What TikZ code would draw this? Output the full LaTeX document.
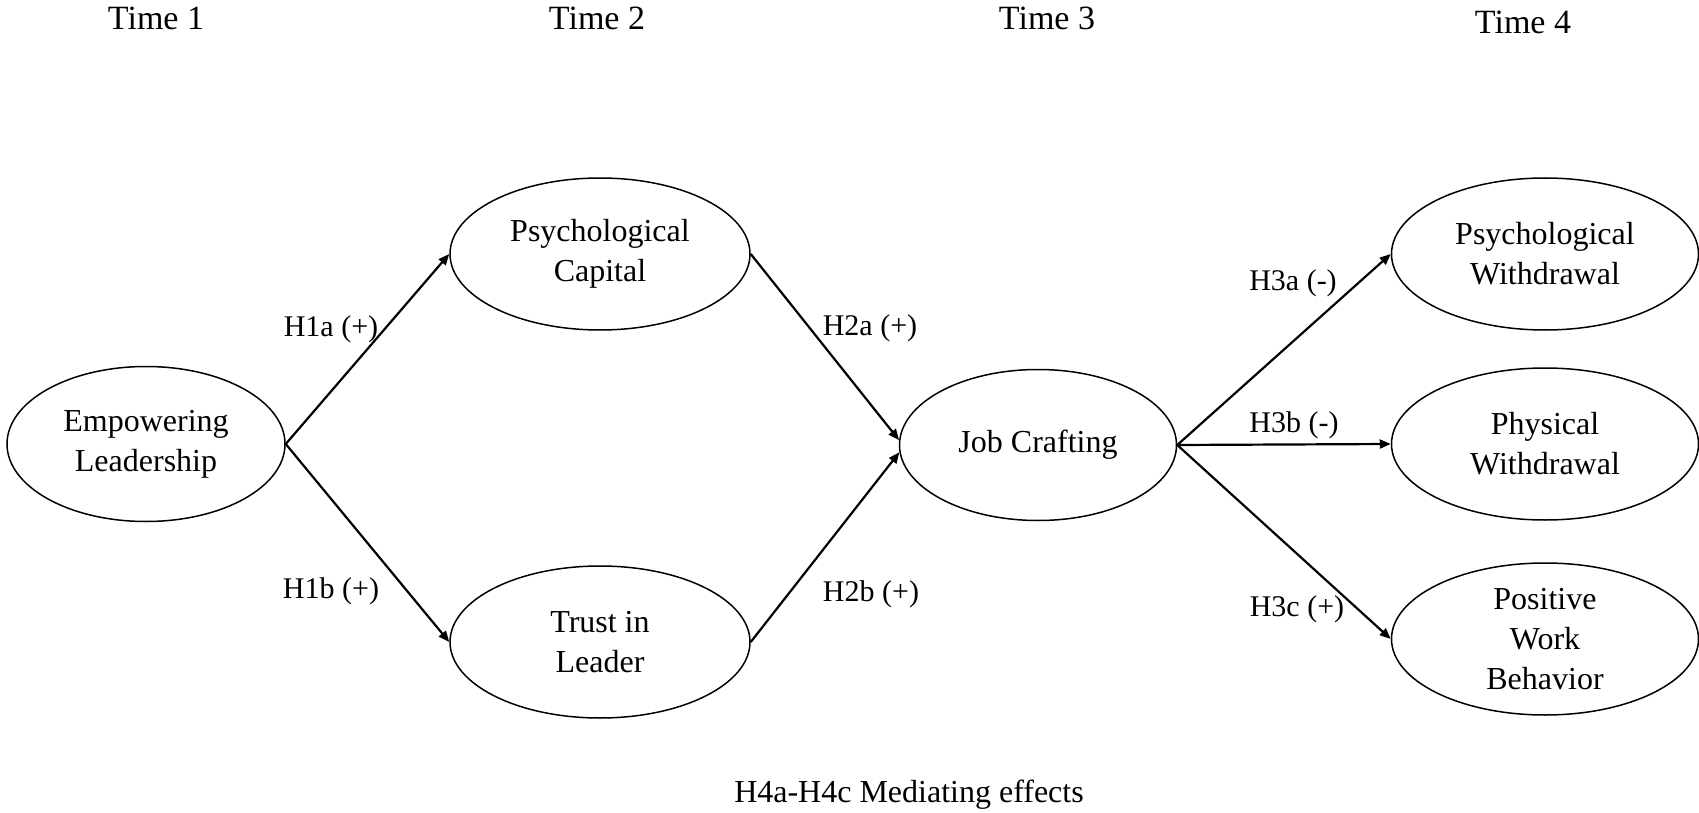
\documentclass[tikz,border=0pt]{standalone}
\usepackage{fontspec}
\setmainfont{Liberation Serif}
\newfontfamily\tnrfont{Liberation Serif}
\usetikzlibrary{arrows.meta,shapes.geometric}
\begin{document}
\begin{tikzpicture}[x=0.5pt,y=-0.5pt,
  var/.style={ellipse,draw,line width=0.75pt,inner sep=0pt,align=center,
    font=\tnrfont\fontsize{16pt}{20pt}\selectfont},
  elbox/.style={var,minimum width=139pt,minimum height=77.5pt},
  midbox/.style={var,minimum width=150pt,minimum height=76pt},
  jcbox/.style={var,minimum width=138.5pt,minimum height=75.5pt},
  outbox/.style={var,minimum width=153.5pt,minimum height=76pt},
  arr/.style={line width=1.1pt,-{Triangle[length=5.5pt,width=4.5pt]}},
  timelbl/.style={anchor=base,inner sep=0pt,font=\tnrfont\fontsize{17pt}{20pt}\selectfont},
  hyplbl/.style={anchor=base,inner sep=0pt,font=\tnrfont\fontsize{15pt}{18pt}\selectfont},
  notelbl/.style={anchor=base,inner sep=0pt,font=\tnrfont\fontsize{16pt}{20pt}\selectfont}
]
\useasboundingbox (0,0) rectangle (1699,813);

% time labels
\node[timelbl] (t1) at (156,30) {Time 1};
\node[timelbl] (t2) at (597,30) {Time 2};
\node[timelbl] (t3) at (1047,30) {Time 3};
\node[timelbl] (t4) at (1523,34) {Time 4};

% variables
\node[elbox] (EL) at (146,444) {Empowering\\Leadership};
\node[midbox] (PC) at (600,254) {Psychological\\Capital};
\node[midbox] (TL) at (600,642) {Trust in\\Leader};
\node[jcbox] (JC) at (1038,445) {Job Crafting};
\node[outbox] (PW) at (1545,254) {Psychological\\Withdrawal};
\node[outbox] (PhW) at (1545,444) {Physical\\Withdrawal};
\node[outbox] (PWB) at (1545,639) {Positive\\Work\\Behavior};

% paths
\draw[arr] (EL.east) -- (PC.west);
\draw[arr] (EL.east) -- (TL.west);
\draw[arr] (PC.east) -- (JC.178);
\draw[arr] (TL.east) -- (JC.183);
\draw[arr] (JC.east) -- (PW.west);
\draw[arr] (JC.east) -- (PhW.west);
\draw[arr] (JC.east) -- (PWB.west);

% hypothesis labels
\node[hyplbl] (h1a) at (331,336) {H1a (+)};
\node[hyplbl] (h1b) at (331,598) {H1b (+)};
\node[hyplbl] (h2a) at (870,335) {H2a (+)};
\node[hyplbl] (h2b) at (871,601) {H2b (+)};
\node[hyplbl] (h3a) at (1293,291) {H3a (-)};
\node[hyplbl] (h3b) at (1294,432) {H3b (-)};
\node[hyplbl] (h3c) at (1297,616) {H3c (+)};

\node[notelbl] (note) at (909,802) {H4a-H4c Mediating effects};
\end{tikzpicture}
\end{document}
